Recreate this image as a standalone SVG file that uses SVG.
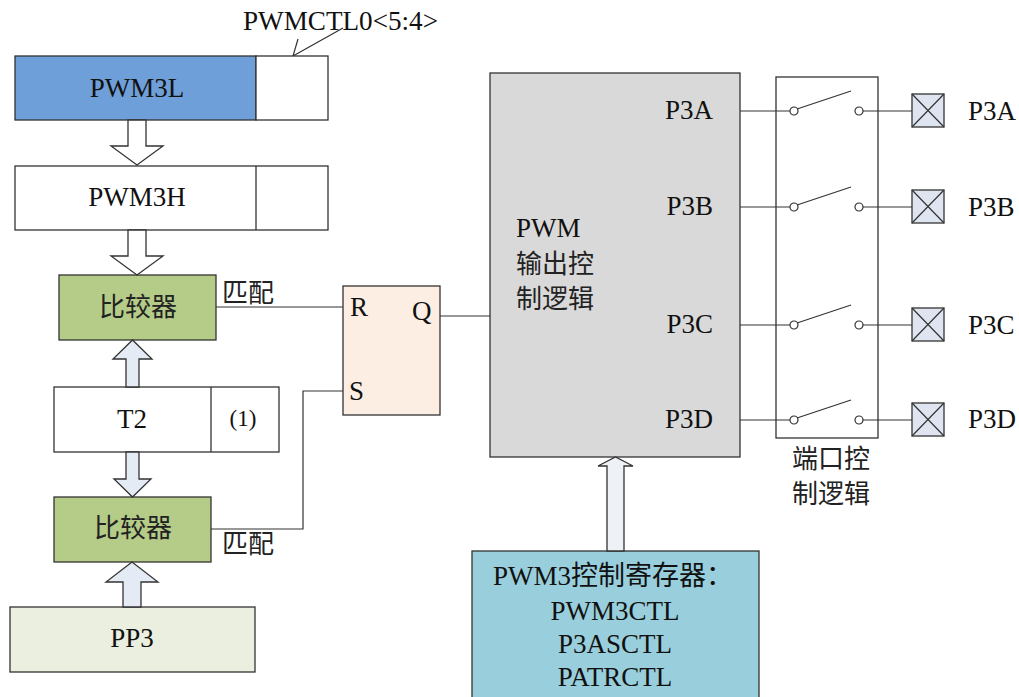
<svg xmlns="http://www.w3.org/2000/svg" width="1019" height="697" viewBox="0 0 1019 697">
<style>
text{font-family:"Liberation Serif","Noto Sans CJK SC",serif;font-size:27px;fill:#111}
.b{stroke:#333;stroke-width:1.3}
.ln{stroke:#333;stroke-width:1.2;fill:none}
.c{text-anchor:middle}
.e{text-anchor:end}
.cj{font-size:26px;fill:#222}
</style>
<defs>
<g id="sw">
<line class="ln" x1="740" y1="0" x2="790" y2="0"/>
<circle cx="794" cy="0" r="4" fill="#fff" class="ln"/>
<line class="ln" x1="797" y1="-2" x2="851" y2="-20"/>
<circle cx="859" cy="0" r="4" fill="#fff" class="ln"/>
<line class="ln" x1="863" y1="0" x2="912" y2="0"/>
<rect x="912" y="-17" width="32" height="33" fill="#dfe5f0" class="b"/>
<path class="ln" d="M912,-17 L944,16 M944,-17 L912,16"/>
</g>
</defs>
<rect width="1019" height="697" fill="#fff"/>

<g id="pwmctl0">
<text x="243" y="30" textLength="195" lengthAdjust="spacingAndGlyphs">PWMCTL0&lt;5:4&gt;</text>
<path class="ln" d="M343,28 L293,56 M298,39 L293,56 L310,62"/>
</g>

<g id="pwm3l">
<rect x="15" y="56" width="241" height="64" fill="#6f9fd8" class="b"/>
<rect x="256" y="56" width="72" height="64" fill="#fff" class="b"/>
<text x="137" y="97" class="c">PWM3L</text>
</g>

<g id="pwm3h">
<rect x="15" y="166" width="313" height="64" fill="#fff" class="b"/>
<line x1="256" y1="166" x2="256" y2="230" class="b"/>
<text x="137" y="206" class="c">PWM3H</text>
</g>

<g id="cmp1">
<rect x="59" y="275" width="157" height="65" fill="#b5cb88" class="b"/>
<text x="138" y="316" class="c cj">比较器</text>
</g>

<g id="t2">
<rect x="54" y="387" width="225" height="65" fill="#fff" class="b"/>
<line x1="211" y1="387" x2="211" y2="452" class="b"/>
<text x="132" y="428" class="c">T2</text>
<text x="243" y="426" class="c" style="font-size:23px">(1)</text>
</g>

<g id="cmp2">
<rect x="54" y="497" width="157" height="65" fill="#b5cb88" class="b"/>
<text x="133" y="537" class="c cj">比较器</text>
</g>

<g id="pp3">
<rect x="10" y="607" width="245" height="65" fill="#ebefdf" class="b"/>
<text x="132" y="647" class="c">PP3</text>
</g>

<g id="sr">
<rect x="343" y="286" width="97" height="129" fill="#fdeee4" class="b"/>
<text x="350" y="316">R</text>
<text x="349" y="400">S</text>
<text x="412" y="320">Q</text>
</g>

<g id="pwmlogic">
<rect x="490" y="73" width="250" height="384" fill="#d9d9d9" class="b"/>
<text x="516" y="237">PWM</text>
<text x="516" y="273" class="cj">输出控</text>
<text x="516" y="308" class="cj">制逻辑</text>
<text x="713" y="119" class="e">P3A</text>
<text x="713" y="215" class="e">P3B</text>
<text x="713" y="333" class="e">P3C</text>
<text x="713" y="428" class="e">P3D</text>
</g>

<g id="portlogic">
<rect x="776" y="77" width="102" height="361" fill="#fff" class="b"/>
<text x="792" y="468" class="cj">端口控</text>
<text x="792" y="503" class="cj">制逻辑</text>
</g>

<g id="pads">
<text x="968" y="120">P3A</text>
<text x="968" y="216">P3B</text>
<text x="968" y="334">P3C</text>
<text x="968" y="428">P3D</text>
</g>

<g id="regs">
<rect x="472" y="551" width="287" height="160" fill="#99cfdc" class="b"/>
<text x="493" y="585">PWM3控制寄存器：</text>
<text x="615" y="620" class="c">PWM3CTL</text>
<text x="615" y="653" class="c">P3ASCTL</text>
<text x="615" y="686" class="c">PATRCTL</text>
</g>

<g id="connectors">
<polygon class="b" fill="#fff" points="128,120 146,120 146,146 163,146 137,165 111,146 128,146"/>
<polygon class="b" fill="#fff" points="128,230 146,230 146,256 163,256 137,275 111,256 128,256"/>
<polygon class="b" fill="#e4ebf5" points="126,387 126,359 113,359 132.5,340 152,359 139,359 139,387"/>
<polygon class="b" fill="#e4ebf5" points="126,452 139,452 139,479 151,479 132.5,497 114,479 126,479"/>
<polygon class="b" fill="#e4ebf5" points="123,607 123,582 106,582 132,562 158,582 141,582 141,607"/>
<polygon class="b" fill="#eef1f6" points="607,551 607,466 598,466 615.5,457 633,466 624,466 624,551"/>
<text x="222" y="302" class="cj">匹配</text>
<text x="222" y="553" class="cj">匹配</text>
<line class="ln" x1="216" y1="307" x2="343" y2="307"/>
<polyline class="ln" points="343,391 303,391 303,529 211,529"/>
<line class="ln" x1="440" y1="316" x2="490" y2="316"/>
<use href="#sw" y="111"/>
<use href="#sw" y="207"/>
<use href="#sw" y="325"/>
<use href="#sw" y="420"/>
</g>
</svg>
